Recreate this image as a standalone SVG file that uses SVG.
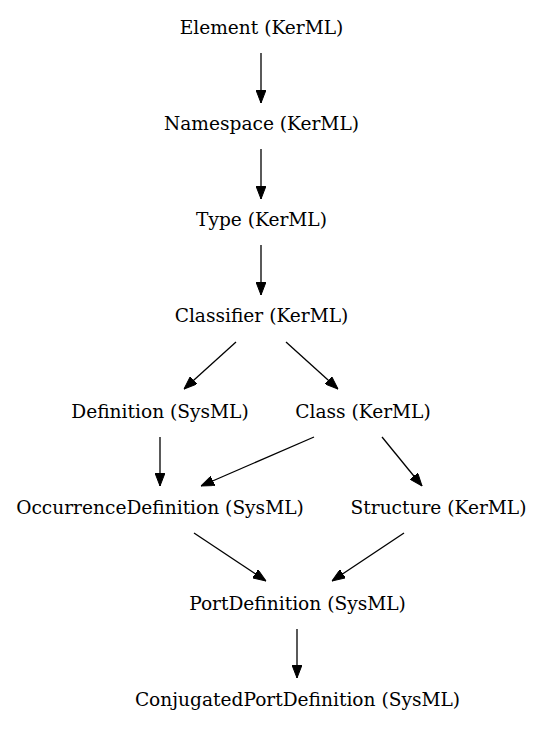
<svg xmlns="http://www.w3.org/2000/svg" width="543" height="731" viewBox="0 0 543 731">
<style>
text { font-family: "DejaVu Serif", "Liberation Serif", serif; font-size: 18.6px; fill: #000; text-anchor: middle; }
.e line { stroke: #000; stroke-width: 1.3; }
</style>
<defs>
<marker id="ah" markerUnits="userSpaceOnUse" viewBox="0 0 13 10" refX="13" refY="5" markerWidth="13" markerHeight="10" orient="auto">
<path d="M0,0 L13,5 L0,10 z" fill="#000" stroke="#000" stroke-width="1"/>
</marker>
</defs>
<rect width="543" height="731" fill="#fff"/>
<g class="e" id="edges">
<line x1="261" y1="53" x2="261" y2="103" marker-end="url(#ah)"/>
<line x1="261" y1="149" x2="261" y2="199" marker-end="url(#ah)"/>
<line x1="261" y1="245" x2="261" y2="295" marker-end="url(#ah)"/>
<line x1="236" y1="342" x2="184" y2="389" marker-end="url(#ah)"/>
<line x1="286" y1="342" x2="338" y2="389" marker-end="url(#ah)"/>
<line x1="160" y1="437" x2="160" y2="486" marker-end="url(#ah)"/>
<line x1="314" y1="437" x2="201" y2="486" marker-end="url(#ah)"/>
<line x1="382" y1="437" x2="422" y2="486" marker-end="url(#ah)"/>
<line x1="194" y1="533" x2="266" y2="581" marker-end="url(#ah)"/>
<line x1="404" y1="533" x2="332" y2="581" marker-end="url(#ah)"/>
<line x1="297" y1="629" x2="297" y2="678" marker-end="url(#ah)"/>
</g>
<g id="n_element"><text x="261.5" y="33.5">Element (KerML)</text></g>
<g id="n_namespace"><text x="261.5" y="129.5">Namespace (KerML)</text></g>
<g id="n_type"><text x="261.5" y="225.5">Type (KerML)</text></g>
<g id="n_classifier"><text x="261.5" y="321.5">Classifier (KerML)</text></g>
<g id="n_definition"><text x="160" y="417.5">Definition (SysML)</text></g>
<g id="n_class"><text x="363" y="417.5">Class (KerML)</text></g>
<g id="n_occdef"><text x="160" y="513.5">OccurrenceDefinition (SysML)</text></g>
<g id="n_structure"><text x="438.5" y="513.5">Structure (KerML)</text></g>
<g id="n_portdef"><text x="297.5" y="609.5">PortDefinition (SysML)</text></g>
<g id="n_conj"><text x="297.5" y="705.5">ConjugatedPortDefinition (SysML)</text></g>
</svg>
